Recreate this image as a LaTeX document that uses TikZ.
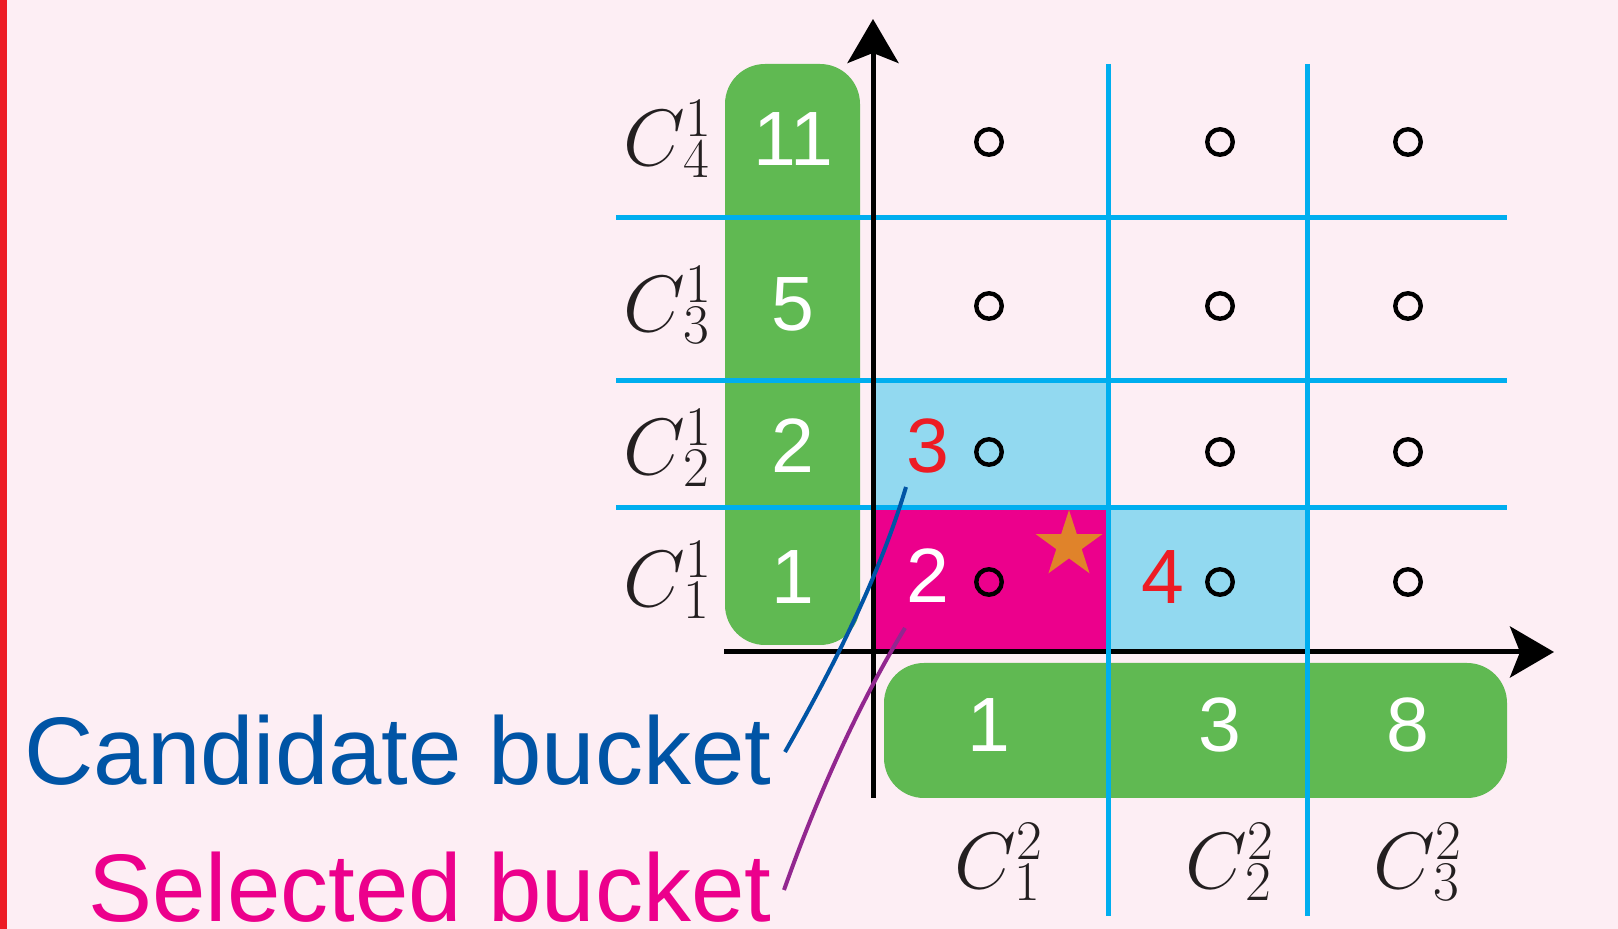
\RequirePackage{fix-cm}
\documentclass[tikz,border=0pt]{standalone}
\usepackage{fontspec}
\newfontfamily\lsans{Liberation Sans}
\usetikzlibrary{arrows.meta,shapes.geometric}
\DeclareMathSizes{40}{40}{28}{20}
\newcommand{\clab}[2]{$C^{#1}\kern-14pt{}_{#2}$}
\definecolor{bgpink}{HTML}{FDEEF4}
\definecolor{edgered}{HTML}{ED1C24}
\definecolor{boxgreen}{HTML}{60B952}
\definecolor{cellblue}{HTML}{92D9F0}
\definecolor{gridcyan}{HTML}{00AEEF}
\definecolor{selmag}{HTML}{EC008C}
\definecolor{candblue}{HTML}{0054A5}
\definecolor{selpurple}{HTML}{92278F}
\definecolor{starorange}{HTML}{E0832A}
\definecolor{numred}{HTML}{ED1C24}
\definecolor{labblack}{HTML}{231F20}
\begin{document}
\begin{tikzpicture}[x=0.5pt,y=-0.5pt,
  greenbox/.style={fill=boxgreen, rounded corners=20pt, inner sep=0, draw=none},
  grid/.style={draw=gridcyan, line width=2.5pt},
  axis/.style={draw=black, line width=2.5pt, -{Stealth[length=22pt,width=25.5pt,inset=5pt]}},
  num/.style={font=\lsans\fontsize{38.5}{40}\selectfont, inner sep=0},
  wnum/.style={num, text=white},
  rnum/.style={num, text=numred},
  dot/.style={circle, draw=black, line width=2.2pt, minimum size=12.75pt, inner sep=0},
  lab/.style={font=\fontsize{40}{44}\selectfont, inner sep=0, anchor=base west, text=labblack},
  bigtext/.style={font=\lsans\fontsize{48}{50}\selectfont, inner sep=0, anchor=base east, text depth=0pt},
  leader/.style={line width=2pt}]
% background
\fill[bgpink] (0,0) rectangle (1618,929);
\useasboundingbox (0,0) rectangle (1618,929);
\fill[edgered] (0,0) rectangle (7,929);
% cells
\fill[cellblue] (873,381) rectangle (1108,508);
\fill[cellblue] (1108,508) rectangle (1307,652);
\fill[selmag] (873,508) rectangle (1108,652);
% green boxes
\node[greenbox, minimum width=67.5pt, minimum height=290.5pt] (vbox) at (792.5,354.5) {};
\node[greenbox, minimum width=311.5pt, minimum height=67.5pt] (hbox) at (1195.5,730.5) {};
% horizontal grid lines
\draw[grid] (616,218) -- (1507,218);
\draw[grid] (616,381) -- (1507,381);
\draw[grid] (616,508) -- (1507,508);
% axes
\coordinate (yfoot) at (873,798);
\coordinate (ytip) at (873,19);
\coordinate (xfoot) at (724,652);
\coordinate (xtip) at (1554,652);
\draw[axis] (yfoot) -- (ytip);
\draw[axis] (xfoot) -- (xtip);
% vertical grid lines
\draw[grid] (1108,64) -- (1108,916);
\draw[grid] (1307,64) -- (1307,916);
% star
\node[star, star points=5, star point ratio=2.618, minimum size=35pt, inner sep=0, fill=starorange] (star) at (1069,545) {};
% numbers in left box
\node[wnum] (v4) at (793,139) {11};
\node[wnum] (v3) at (793,304) {5};
\node[wnum] (v2) at (793,446) {2};
\node[wnum] (v1) at (793,577) {1};
% numbers in bottom box
\node[wnum] (h1) at (989,725) {1};
\node[wnum] (h2) at (1220,725) {3};
\node[wnum] (h3) at (1408,725) {8};
% numbers in cells
\node[rnum] (n3) at (928,446) {3};
\node[wnum] (n2) at (928,576) {2};
\node[rnum] (n4) at (1163,577) {4};
% dots
\foreach \cx/\i in {989/1,1220/2,1408/3}{
  \foreach \cy/\j in {142/4,306/3,452/2,582/1}{
    \node[dot] (d\i\j) at (\cx,\cy) {};
  }
}
% row labels
\node[lab] (r4) at (623,166) {\clab{1}{4}};
\node[lab] (r3) at (623,332) {\clab{1}{3}};
\node[lab] (r2) at (623,475) {\clab{1}{2}};
\node[lab] (r1) at (623,607) {\clab{1}{1}};
% column labels
\node[lab] (c1) at (954,889) {\clab{2}{1}};
\node[lab] (c2) at (1185,889) {\clab{2}{2}};
\node[lab] (c3) at (1373,889) {\clab{2}{3}};
% legend texts
\node[bigtext, text=candblue] (cand) at (772,785) {Candidate bucket};
\node[bigtext, text=selmag] (sel) at (772,922) {Selected bucket};
\coordinate (candend) at (785,752);
\coordinate (candcell) at (906,487);
\coordinate (selend) at (784,890);
\coordinate (selcell) at (905,628);
\draw[leader, draw=candblue] (candend) .. controls (842,652) and (882,567) .. (candcell);
\draw[leader, draw=selpurple] (selend) .. controls (814,805) and (855,710) .. (selcell);
\end{tikzpicture}
\end{document}
